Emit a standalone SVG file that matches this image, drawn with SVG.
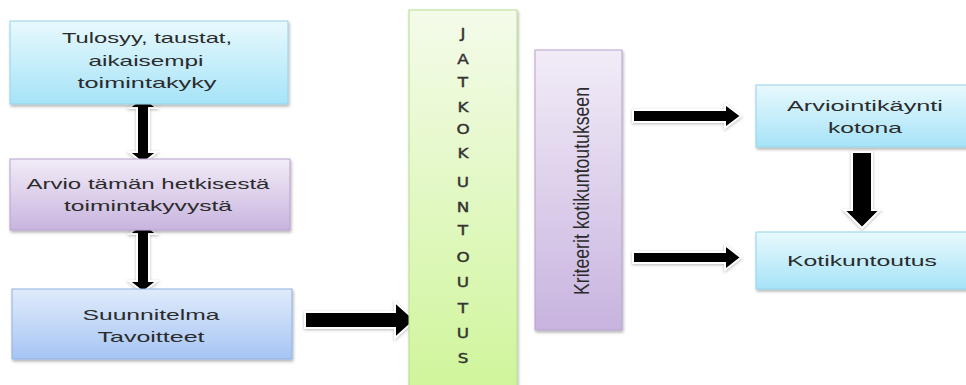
<svg xmlns="http://www.w3.org/2000/svg" width="966" height="385" viewBox="0 0 966 385">
<defs>
<linearGradient id="gCyan" x1="0" y1="0" x2="0" y2="1"><stop offset="0" stop-color="#e8f9fd"/><stop offset="1" stop-color="#a6e3f8"/></linearGradient>
<linearGradient id="gPurple" x1="0" y1="0" x2="0" y2="1"><stop offset="0" stop-color="#f2ecf7"/><stop offset="1" stop-color="#c8b4df"/></linearGradient>
<linearGradient id="gBlue" x1="0" y1="0" x2="0" y2="1"><stop offset="0" stop-color="#e0ebfb"/><stop offset="1" stop-color="#a6c5f4"/></linearGradient>
<linearGradient id="gGreen" x1="0" y1="0" x2="0" y2="1"><stop offset="0" stop-color="#f4fbea"/><stop offset="1" stop-color="#cff59a"/></linearGradient>
<filter id="shadow" x="-10%" y="-10%" width="120%" height="130%"><feDropShadow dx="1" dy="2" stdDeviation="1.5" flood-color="#000" flood-opacity="0.3"/></filter>
<filter id="glow" x="-20%" y="-20%" width="140%" height="140%"><feDropShadow dx="0" dy="1" stdDeviation="1.5" flood-color="#888" flood-opacity="0.6"/></filter>
<style>
.box{filter:url(#shadow);stroke-width:1}
.cyan{fill:url(#gCyan);stroke:#93d3ea}
.purple{fill:url(#gPurple);stroke:#b7a2cf}
.blue{fill:url(#gBlue);stroke:#8fb2e3}
.green{fill:url(#gGreen);stroke:#b8de8c}
.t{font-family:"Liberation Sans",Arial,sans-serif;font-size:15px;fill:#2b2b2b;text-anchor:middle}
.col{font-family:"DejaVu Sans",Verdana,sans-serif;font-size:14px;fill:#333;stroke:#333;stroke-width:0.4;text-anchor:middle}
.arr{fill:#000;stroke:#fff;stroke-width:2;stroke-linejoin:miter;filter:url(#glow)}
</style>
</defs>
<rect width="966" height="385" fill="#fff"/>

<g id="connectors">
<polygon class="arr" points="143,97 157,108 149,108 149,152 157,152 143,163 129,152 137,152 137,108 129,108"/>
<polygon class="arr" points="143,223 157,234 149,234 149,281 157,281 143,292 129,281 137,281 137,234 129,234"/>
<polygon class="arr" points="305,312 395,312 395,302 415,320 395,338 395,328 305,328"/>
<polygon class="arr" points="633,110 725,110 725,104 741,116 725,128 725,122 633,122"/>
<polygon class="arr" points="633,252 725,252 725,245 741,257.5 725,270 725,263 633,263"/>
<polygon class="arr" points="852,152 872,152 872,210 880,210 862,228 844,210 852,210"/>
</g>

<g id="tulosyy">
<rect class="box cyan" x="10" y="21" width="278" height="83"/>
<text class="t" x="147" y="43" textLength="170" lengthAdjust="spacingAndGlyphs">Tulosyy, taustat,</text>
<text class="t" x="146" y="66" textLength="115" lengthAdjust="spacingAndGlyphs">aikaisempi</text>
<text class="t" x="147" y="88" textLength="139" lengthAdjust="spacingAndGlyphs">toimintakyky</text>
</g>

<g id="arvio">
<rect class="box purple" x="10" y="159" width="280" height="71"/>
<text class="t" x="148" y="189" textLength="243" lengthAdjust="spacingAndGlyphs">Arvio tämän hetkisestä</text>
<text class="t" x="148" y="211" textLength="168" lengthAdjust="spacingAndGlyphs">toimintakyvystä</text>
</g>

<g id="suunnitelma">
<rect class="box blue" x="12" y="289" width="280" height="70"/>
<text class="t" x="151" y="320" textLength="137" lengthAdjust="spacingAndGlyphs">Suunnitelma</text>
<text class="t" x="151" y="342" textLength="107" lengthAdjust="spacingAndGlyphs">Tavoitteet</text>
</g>

<g id="jatkokuntoutus">
<rect class="box green" x="409" y="10" width="108" height="385"/>
<g transform="translate(463,0) scale(1.2,1)">
<text class="col" x="0" y="38">J</text>
<text class="col" x="0" y="64">A</text>
<text class="col" x="0" y="87">T</text>
<text class="col" x="0" y="112">K</text>
<text class="col" x="0" y="134">O</text>
<text class="col" x="0" y="158">K</text>
<text class="col" x="0" y="187">U</text>
<text class="col" x="0" y="212">N</text>
<text class="col" x="0" y="235">T</text>
<text class="col" x="0" y="262">O</text>
<text class="col" x="0" y="287">U</text>
<text class="col" x="0" y="313">T</text>
<text class="col" x="0" y="338">U</text>
<text class="col" x="0" y="363">S</text>
</g>
</g>

<g id="kriteerit">
<rect class="box purple" x="535" y="50" width="87" height="280"/>
<g transform="translate(589,191) rotate(-90) scale(1,1.5)">
<text class="t" x="0" y="0" textLength="208" lengthAdjust="spacingAndGlyphs">Kriteerit  kotikuntoutukseen</text>
</g>
</g>

<g id="arviointikaynti">
<rect class="box cyan" x="756" y="85" width="216" height="62"/>
<text class="t" x="865" y="111" textLength="156" lengthAdjust="spacingAndGlyphs">Arviointikäynti</text>
<text class="t" x="865" y="133" textLength="74" lengthAdjust="spacingAndGlyphs">kotona</text>
</g>

<g id="kotikuntoutus">
<rect class="box cyan" x="756" y="232" width="216" height="57"/>
<text class="t" x="862" y="266" textLength="150" lengthAdjust="spacingAndGlyphs">Kotikuntoutus</text>
</g>
</svg>
